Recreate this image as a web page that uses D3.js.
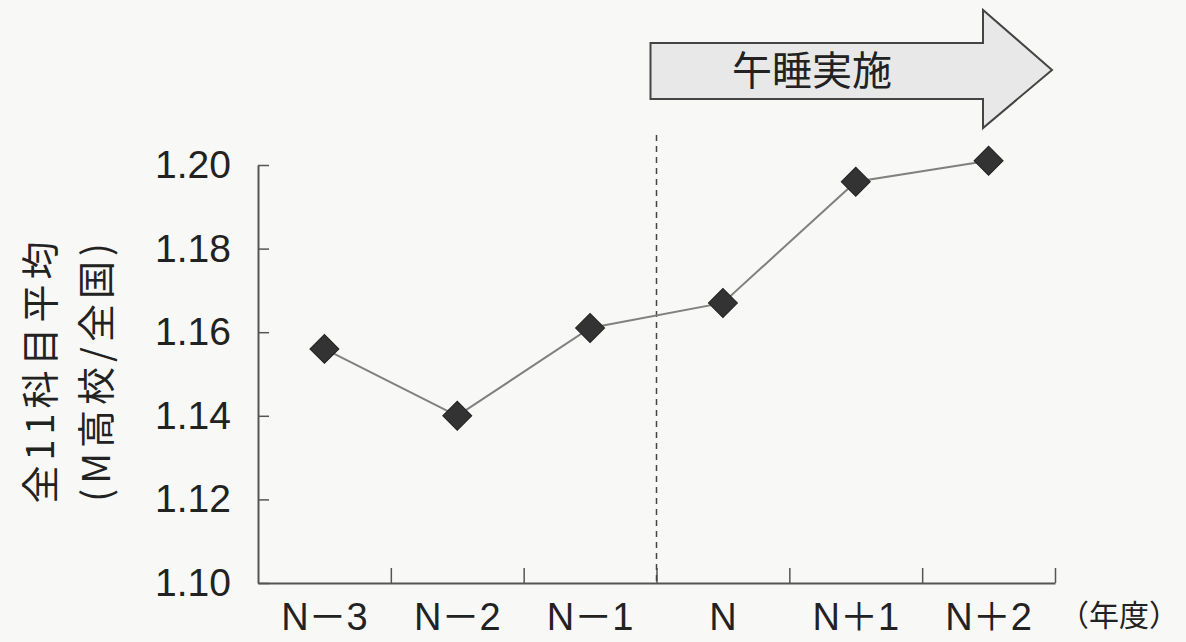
<!DOCTYPE html>
<html>
<head>
<meta charset="utf-8">
<script src="https://cdn.jsdelivr.net/npm/d3@7"></script>
<style>
  body { margin: 0; background: #f8f8f7; }
  svg { display: block; }
</style>
</head>
<body>
<div id="plot"></div>
<script>
// values
var years = ["N－3", "N－2", "N－1", "N", "N＋1", "N＋2"];
var ratio = [1.156, 1.140, 1.161, 1.167, 1.196, 1.201];
var yTicks = [1.10, 1.12, 1.14, 1.16, 1.18, 1.20];
var yLabel = ["全11科目平均", "(M高校/全国)"];
var unitLabel = "（年度）";
var arrowText = "午睡実施";
var startIdx = 3; // 午睡 starts at year N

var W = 1186, H = 642;
var mLeft = 258, mRight = 1055, mTop = 165, mBottom = 583;
var jpFont = "'Liberation Sans', 'Noto Sans CJK JP', sans-serif";

var svg = d3.select("div#plot")
  .append("svg")
  .attr("width", W)
  .attr("height", H);

svg.append("rect").attr("width", W).attr("height", H).attr("fill", "#f8f8f7");

var x = d3.scaleBand().domain(years).range([mLeft, mRight]).padding(0);
var xb = d3.scaleLinear().domain([0, years.length]).range([mLeft, mRight]);
var y = d3.scaleLinear().domain([1.10, 1.20]).range([mBottom, mTop]);

// y axis, ticks pointing inward
var yAxis = svg.append("g")
  .attr("transform", "translate(" + mLeft + ",0)")
  .call(d3.axisLeft(y).tickValues(yTicks).tickFormat(d3.format(".2f"))
    .tickSizeInner(-11).tickSizeOuter(0).tickPadding(27));
yAxis.select(".domain").attr("stroke", "#555").attr("stroke-width", 2);
yAxis.selectAll(".tick line").attr("stroke", "#555").attr("stroke-width", 1.5);
yAxis.selectAll(".tick text")
  .attr("font-family", "'Liberation Sans', sans-serif")
  .attr("font-size", 39)
  .attr("fill", "#222");

// x axis line with ticks on band boundaries
var xAxis = svg.append("g")
  .attr("transform", "translate(0," + mBottom + ")")
  .call(d3.axisTop(xb).tickValues(d3.range(1, years.length + 1))
    .tickFormat("").tickSizeInner(15).tickSizeOuter(0));
xAxis.select(".domain").attr("stroke", "#555").attr("stroke-width", 2);
xAxis.selectAll(".tick line").attr("stroke", "#555").attr("stroke-width", 1.5);

// category labels
svg.selectAll(".xlab")
  .data(years)
  .enter().append("text")
  .attr("class", "xlab")
  .attr("x", function(d) { return x(d) + x.bandwidth() / 2; })
  .attr("y", 630)
  .attr("text-anchor", "middle")
  .attr("font-family", jpFont)
  .attr("font-size", 38)
  .attr("fill", "#222")
  .text(function(d) { return d; });

svg.append("text")
  .attr("x", xb(years.length) + 4)
  .attr("y", 626)
  .attr("font-family", "'Noto Sans CJK JP', sans-serif")
  .attr("font-size", 30)
  .attr("fill", "#222")
  .text(unitLabel);

// y label, two rotated lines
svg.selectAll(".ylab")
  .data(yLabel)
  .enter().append("text")
  .attr("class", "ylab")
  .attr("transform", function(d, i) { return "translate(" + (54 + i * 56) + ",370) rotate(-90)"; })
  .attr("text-anchor", "middle")
  .attr("font-family", "'Noto Sans CJK JP', sans-serif")
  .attr("font-size", 38)
  .attr("letter-spacing", 5)
  .attr("fill", "#222")
  .text(function(d) { return d; });

// dashed divider at start of 午睡
svg.append("line")
  .attr("x1", xb(startIdx)).attr("x2", xb(startIdx))
  .attr("y1", 135).attr("y2", mBottom)
  .attr("stroke", "#444")
  .attr("stroke-width", 1.5)
  .attr("stroke-dasharray", "6,5");

// arrow
var ax0 = xb(startIdx) - 6, ax1 = 983, ax2 = 1052;
var ay = 70;
var arrow = [[ax0, ay - 27], [ax1, ay - 27], [ax1, ay - 60], [ax2, ay],
             [ax1, ay + 58], [ax1, ay + 29], [ax0, ay + 29]];
svg.append("path")
  .attr("d", d3.line()(arrow) + "Z")
  .attr("fill", "#e8e8e8")
  .attr("stroke", "#444")
  .attr("stroke-width", 2);
svg.append("text")
  .attr("x", 812).attr("y", 85)
  .attr("text-anchor", "middle")
  .attr("font-family", "'Noto Sans CJK JP', sans-serif")
  .attr("font-size", 40)
  .attr("fill", "#222")
  .text(arrowText);

// series line
var line = d3.line()
  .x(function(d, i) { return x(years[i]) + x.bandwidth() / 2; })
  .y(function(d) { return y(d); });
svg.append("path")
  .datum(ratio)
  .attr("d", line)
  .attr("fill", "none")
  .attr("stroke", "#808080")
  .attr("stroke-width", 2);

// diamond markers
svg.selectAll(".pt")
  .data(ratio)
  .enter().append("path")
  .attr("class", "pt")
  .attr("d", d3.symbol().type(d3.symbolSquare).size(420))
  .attr("transform", function(d, i) {
    return "translate(" + (x(years[i]) + x.bandwidth() / 2) + "," + y(d) + ") rotate(45)";
  })
  .attr("fill", "#333")
  .attr("stroke", "#222")
  .attr("stroke-width", 1);
</script>
</body>
</html>
